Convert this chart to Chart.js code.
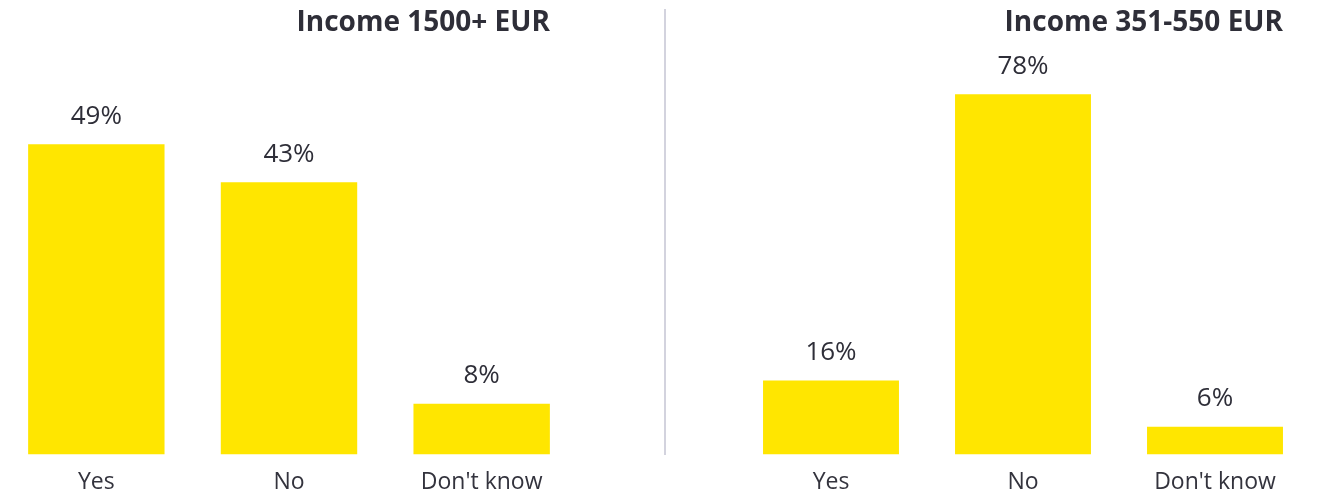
<!DOCTYPE html>
<html>
<head>
<meta charset="utf-8">
<script src="https://cdn.jsdelivr.net/npm/chart.js@4/dist/chart.umd.min.js"></script>
<style>
  html, body { margin: 0; padding: 0; background: #fff; overflow: hidden; }
  #wrap { position: relative; width: 1323px; height: 497px; overflow: hidden; }
  .box { position: absolute; top: 0; height: 511px; }
  #divider { position: absolute; left: 664px; top: 9px; width: 2px; height: 446px; background: #d3d3de; }
</style>
</head>
<body>
<div id="wrap">
  <div class="box" style="left:0;width:578px"><canvas id="chart_high"></canvas></div>
  <div id="divider"></div>
  <div class="box" style="left:735px;width:576px"><canvas id="chart_low"></canvas></div>
</div>
<script>
var answers     = ["Yes", "No", "Don't know"];
var highTitle   = "Income 1500+ EUR";
var highValues  = [49, 43, 8];
var lowTitle    = "Income 351-550 EUR";
var lowValues   = [16, 78, 6];

var FONT   = "'Open Sans', sans-serif";
var INK    = "#2e2e38";
var YELLOW = "#ffe600";

// percent labels above each bar plus the panel title on the right edge
var barText = {
  id: 'barText',
  afterDatasetsDraw: function(chart, args, opts) {
    var ctx = chart.ctx;
    var meta = chart.getDatasetMeta(0);
    ctx.save();
    ctx.fillStyle = INK;
    ctx.textAlign = 'center';
    ctx.textBaseline = 'middle';
    ctx.font = '26px ' + FONT;
    meta.data.forEach(function(bar, i) {
      ctx.fillText(chart.data.datasets[0].data[i] + '%', bar.x, bar.y - 28);
    });
    var last = meta.data[meta.data.length - 1];
    ctx.font = 'bold 28px ' + FONT;
    ctx.textAlign = 'right';
    ctx.fillText(opts.text, last.x + last.width / 2, 23);
    ctx.restore();
  }
};

function makeChart(id, title, values, max) {
  return new Chart(document.getElementById(id), {
    type: 'bar',
    data: {
      labels: answers,
      datasets: [{
        data: values,
        backgroundColor: YELLOW,
        barPercentage: 0.708,
        categoryPercentage: 1
      }]
    },
    options: {
      responsive: true,
      maintainAspectRatio: false,
      animation: false,
      layout: { padding: { top: 60, bottom: 1, left: 0, right: 0 } },
      plugins: {
        legend: { display: false },
        tooltip: { enabled: false },
        barText: { text: title }
      },
      scales: {
        x: {
          grid: { display: false, drawTicks: false },
          border: { display: false },
          ticks: { color: '#33333d', font: { family: FONT, size: 23 }, padding: 14 }
        },
        y: { display: false, min: 0, max: max }
      }
    },
    plugins: [barText]
  });
}

makeChart('chart_high', highTitle, highValues, 62.3);
makeChart('chart_low', lowTitle, lowValues, 85.4);
</script>
</body>
</html>
